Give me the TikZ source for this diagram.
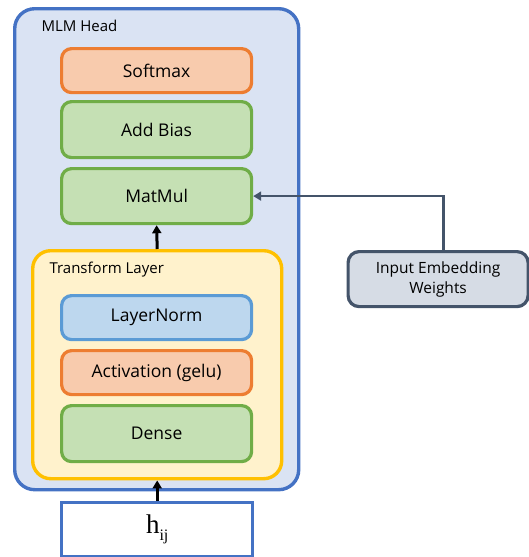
\documentclass[tikz,border=0pt]{standalone}
\usepackage{fontspec}
\setmainfont{Open Sans}
\newfontfamily\serifh{Liberation Serif}
\usetikzlibrary{arrows.meta}
\definecolor{headfill}{HTML}{DAE3F3}
\definecolor{headline}{HTML}{4472C4}
\definecolor{tfill}{HTML}{FFF2CC}
\definecolor{tline}{HTML}{FFC000}
\definecolor{ofill}{HTML}{F8CBAD}
\definecolor{oline}{HTML}{ED7D31}
\definecolor{gfill}{HTML}{C5E0B4}
\definecolor{gline}{HTML}{70AD47}
\definecolor{bfill}{HTML}{BDD7EE}
\definecolor{bline}{HTML}{5B9BD5}
\definecolor{sfill}{HTML}{D6DCE5}
\definecolor{sline}{HTML}{44546A}
\tikzset{
  opbox/.style={draw, line width=3.2pt, rounded corners=10pt, minimum width=190pt,
    anchor=north west, inner sep=0pt, font=\fontsize{17.5}{20}\selectfont},
  orangebox/.style={opbox, fill=ofill, draw=oline},
  greenbox/.style={opbox, fill=gfill, draw=gline},
  bluebox/.style={opbox, fill=bfill, draw=bline},
  grouplabel/.style={anchor=west, font=\fontsize{15}{18}\selectfont},
  flow/.style={-{Triangle[length=8pt,width=9pt]}, line width=3pt}
}
\begin{document}
\begin{tikzpicture}[x=1pt, y=-1pt]
\useasboundingbox (0,0) rectangle (528,557);

% MLM head container
\node[draw=headline, fill=headfill, line width=3.4pt, rounded corners=20pt,
  minimum width=284pt, minimum height=481pt, anchor=north west, inner sep=0pt]
  (head) at (13,7) {};
\node[grouplabel] (headlbl) at (38,26) {MLM Head};

\node[orangebox, minimum height=44pt] (softmax) at (60,47) {Softmax};
\node[greenbox, minimum height=56pt] (bias) at (60,100) {Add Bias};
\node[greenbox, minimum height=55pt] (matmul) at (60,167) {MatMul};

% transform layer container
\node[draw=tline, fill=tfill, line width=3.4pt, rounded corners=18pt,
  minimum width=249pt, minimum height=228pt, anchor=north west, inner sep=0pt]
  (trans) at (31,249) {};
\node[grouplabel] (translbl) at (46,270) {Transform Layer};

\node[bluebox, minimum height=44pt] (norm) at (60,294) {LayerNorm};
\node[orangebox, minimum height=44pt] (act) at (60,349) {Activation (gelu)};
\node[greenbox, minimum height=56pt] (dense) at (60,404) {Dense};

% input
\node[draw=headline, fill=white, line width=3.4pt, minimum width=191pt,
  minimum height=54pt, anchor=north west, inner sep=0pt] (h) at (60,501)
  {\serifh\fontsize{27}{28}\selectfont h\raisebox{-0.55ex}{\fontsize{16}{17}\selectfont ij}};

% embedding weights
\node[draw=sline, fill=sfill, line width=3.2pt, rounded corners=11pt,
  minimum width=180pt, minimum height=55pt, anchor=north west, inner sep=0pt,
  align=center, font=\fontsize{15.5}{20}\selectfont] (emb) at (346.5,250)
  {Input Embedding\\Weights};

% connectors
\draw[flow] (h.north) -- (trans.south);
\draw[flow] (trans.north) -- (matmul.south);
\draw[draw=sline, line width=2.6pt, -{Triangle[length=8pt,width=9pt]}]
  ([xshift=5.5pt]emb.north) |- (matmul.east);
\end{tikzpicture}
\end{document}
